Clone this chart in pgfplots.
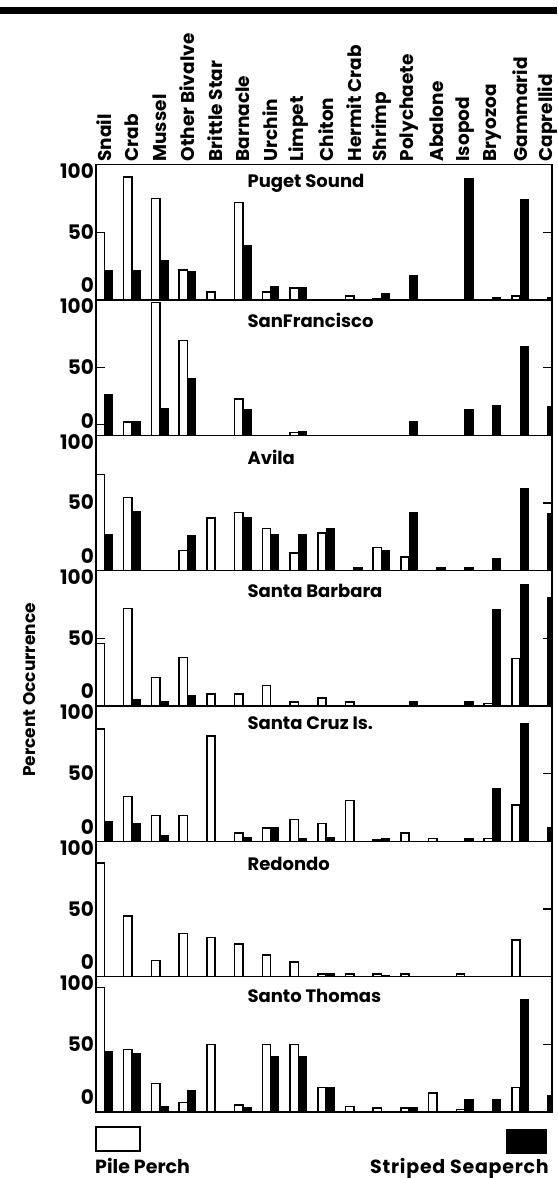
\documentclass[border=0pt]{standalone}
\usepackage{fontspec}
\setmainfont{Poppins}
\usepackage{pgfplots}
\usepackage{pgfplotstable}
\pgfplotsset{compat=1.18}

% categories 0..16: Snail Crab Mussel OtherBivalve BrittleStar Barnacle Urchin Limpet
% Chiton HermitCrab Shrimp Polychaete Abalone Isopod Bryozoa Gammarid Caprellid
\pgfplotstableread{
x pile striped
0 50 22
1 91 22
2 75 29
3 22 21
4 6 0
5 72 40
6 6 10
7 9 9
8 0 0
9 3 0
10 1 5
11 0 18
12 0 0
13 0 90
14 0 2
15 3 74
16 0 2
}\puget
\pgfplotstableread{
x pile striped
0 8 30
1 10 10
2 98 20
3 70 42
4 0 0
5 27 19
6 0 0
7 2 3
8 0 0
9 0 0
10 0 0
11 0 10
12 0 0
13 0 19
14 0 22
15 0 66
16 0 21
}\sanfran
\pgfplotstableread{
x pile striped
0 71 27
1 54 44
2 0 0
3 15 26
4 39 0
5 43 39
6 31 27
7 13 27
8 28 31
9 0 2
10 17 15
11 10 43
12 0 2
13 0 2
14 0 9
15 0 61
16 0 42
}\avila
\pgfplotstableread{
x pile striped
0 46 0
1 72 5
2 21 3
3 36 8
4 9 0
5 9 0
6 15 0
7 3 0
8 6 0
9 3 0
10 0 0
11 0 3
12 0 0
13 0 3
14 2 71
15 35 90
16 0 80
}\sbarbara
\pgfplotstableread{
x pile striped
0 83 15
1 33 13
2 19 4
3 19 0
4 78 0
5 6 3
6 10 10
7 16 2
8 13 3
9 30 0
10 1 2
11 6 0
12 2 0
13 0 2
14 2 39
15 27 87
16 0 10
}\scruz
\pgfplotstableread{
x pile striped
0 84 0
1 45 0
2 12 0
3 32 0
4 29 0
5 24 0
6 16 0
7 11 0
8 2 2
9 2 0
10 2 1
11 2 0
12 0 0
13 2 0
14 0 0
15 27 0
16 0 0
}\redondo
\pgfplotstableread{
x pile striped
0 92 45
1 46 43
2 21 4
3 7 16
4 50 0
5 5 3
6 50 41
7 50 41
8 18 18
9 4 0
10 3 0
11 3 3
12 14 0
13 2 9
14 0 9
15 18 83
16 0 12
}\sthomas

\pgfplotsset{
  panel/.style={
    scale only axis, width=456pt, height=135.33pt,
    anchor=south west,
    xmin=-0.3, xmax=16.15, ymin=0, ymax=100,
    xtick=\empty,
    ytick={0,50,100},
    ytick pos=both, yticklabel pos=left,
    tick align=inside,
    major tick length=9pt,
    axis line style={line width=1.6pt},
    every tick/.append style={line width=1.4pt, black},
    yticklabel={\ifcase\ticknum\smash{\raisebox{7pt}{0}}\hspace{6pt}\or\smash{\raisebox{-7pt}{50}}\or\smash{\raisebox{-14pt}{100}}\fi},
    yticklabel style={font=\bfseries\fontsize{20}{20}\selectfont, inner xsep=2pt},
  },
  pile/.style={ybar, bar width=0.3, bar shift=-0.15, fill=white, draw=black, line width=1.5pt},
  striped/.style={ybar, bar width=0.3, bar shift=0.15, fill=black, draw=black, line width=1pt},
}
\tikzset{ptitle/.style={anchor=west, font=\bfseries\fontsize{18}{18}\selectfont}}

\begin{document}
\begin{tikzpicture}
\useasboundingbox (0,0) rectangle (557pt,1178pt);
\fill (0,1164pt) rectangle (557pt,1171pt);

\begin{axis}[panel, at={(96pt,878pt)},
  xtick={0,...,16},
  xticklabels={Snail,Crab,Mussel,Other Bivalve,Brittle Star,Barnacle,Urchin,Limpet,Chiton,Hermit Crab,Shrimp,Polychaete,Abalone,Isopod,Bryozoa,Gammarid,Caprellid},
  xtick pos=upper, xticklabel pos=upper,
  xtick style={draw=none},
  xticklabel style={rotate=90, anchor=west, inner sep=3pt, font=\bfseries\fontsize{18.5}{18.5}\selectfont}]
\addplot[pile] table[x=x,y=pile]{\puget};
\addplot[striped] table[x=x,y=striped]{\puget};
\node[ptitle] at (axis description cs:0.3246,0.86) {Puget Sound};
\end{axis}

\begin{axis}[panel, at={(96pt,742.67pt)}]
\addplot[pile] table[x=x,y=pile]{\sanfran};
\addplot[striped] table[x=x,y=striped]{\sanfran};
\node[ptitle] at (axis description cs:0.3246,0.85) {SanFrancisco};
\end{axis}

\begin{axis}[panel, at={(96pt,607.33pt)}]
\addplot[pile] table[x=x,y=pile]{\avila};
\addplot[striped] table[x=x,y=striped]{\avila};
\node[ptitle] at (axis description cs:0.3246,0.84) {Avila};
\end{axis}

\begin{axis}[panel, at={(96pt,472pt)}]
\addplot[pile] table[x=x,y=pile]{\sbarbara};
\addplot[striped] table[x=x,y=striped]{\sbarbara};
\node[ptitle] at (axis description cs:0.3246,0.85) {Santa Barbara};
\end{axis}

\begin{axis}[panel, at={(96pt,336.67pt)}]
\addplot[pile] table[x=x,y=pile]{\scruz};
\addplot[striped] table[x=x,y=striped]{\scruz};
\node[ptitle] at (axis description cs:0.3246,0.87) {Santa Cruz Is.};
\end{axis}

\begin{axis}[panel, at={(96pt,201.33pt)}]
\addplot[pile] table[x=x,y=pile]{\redondo};
\addplot[striped] table[x=x,y=striped]{\redondo};
\node[ptitle] at (axis description cs:0.3246,0.83) {Redondo};
\end{axis}

\begin{axis}[panel, at={(96pt,66pt)}]
\addplot[pile] table[x=x,y=pile]{\sthomas};
\addplot[striped] table[x=x,y=striped]{\sthomas};
\node[ptitle] at (axis description cs:0.3246,0.86) {Santo Thomas};
\end{axis}

\node[rotate=90, font=\bfseries\fontsize{17}{17}\selectfont] at (30pt,488pt) {Percent Occurrence};

% legend keys
\draw[line width=1.5pt, fill=white] (96pt,27pt) rectangle (140pt,51pt);
\fill (506pt,24pt) rectangle (547pt,49pt);
\node[anchor=base west, inner sep=0pt, font=\bfseries\fontsize{19}{19}\selectfont] at (95pt,5pt) {Pile Perch};
\node[anchor=base east, inner sep=0pt, font=\bfseries\fontsize{19}{19}\selectfont] at (549pt,5pt) {\addfontfeature{LetterSpace=4}Striped Seaperch};
\end{tikzpicture}
\end{document}
